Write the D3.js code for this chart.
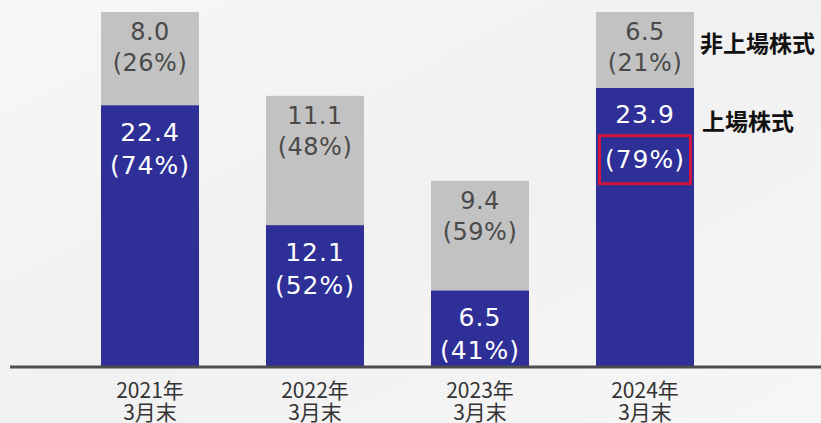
<!DOCTYPE html>
<html>
<head>
<meta charset="utf-8">
<script src="https://cdn.jsdelivr.net/npm/d3@7"></script>
<style>
  html, body { margin: 0; padding: 0; }
  body { width: 821px; height: 423px; overflow: hidden; }
  svg { display: block; }
</style>
</head>
<body>
<div id="chart"></div>
<script>
// values (3月末 each year)
var years = ["2021年", "2022年", "2023年", "2024年"];
var subLabel = "3月末";
var listed = [22.4, 12.1, 6.5, 23.9];
var unlisted = [8.0, 11.1, 9.4, 6.5];
var listedPct = [74, 52, 41, 79];
var unlistedPct = [26, 48, 59, 21];
var seriesNames = ["上場株式", "非上場株式"];
var highlightYear = "2024年";

var width = 821, height = 423;
var baseY = 366;

var data = years.map(function(y, i) {
  return { year: y, listed: listed[i], unlisted: unlisted[i],
           listedPct: listedPct[i], unlistedPct: unlistedPct[i] };
});

var svg = d3.select("#chart")
  .append("svg")
  .attr("width", width)
  .attr("height", height);

var defs = svg.append("defs");
var grad = defs.append("linearGradient")
  .attr("id", "bg")
  .attr("x1", "0").attr("y1", "0").attr("x2", "1").attr("y2", "1");
grad.append("stop").attr("offset", "0%").attr("stop-color", "#f7f7f7");
grad.append("stop").attr("offset", "50%").attr("stop-color", "#f1f1f1");
grad.append("stop").attr("offset", "100%").attr("stop-color", "#f6f6f6");

svg.append("rect")
  .attr("width", width)
  .attr("height", height)
  .attr("fill", "url(#bg)");

var x = d3.scaleBand()
  .domain(years)
  .range([34, 761])
  .paddingInner(0.406)
  .paddingOuter(0.406);

var y = d3.scaleLinear()
  .domain([0, 30.4])
  .range([baseY, 12]);

var stack = d3.stack().keys(["listed", "unlisted"]);
var series = stack(data);
var colors = { listed: "#2e2f97", unlisted: "#c2c2c2" };

svg.selectAll(".layer")
  .data(series)
  .enter().append("g")
  .attr("class", "layer")
  .attr("fill", function(d) { return colors[d.key]; })
  .selectAll("rect")
  .data(function(d) { return d; })
  .enter().append("rect")
  .attr("x", function(d) { return x(d.data.year); })
  .attr("y", function(d) { return y(d[1]); })
  .attr("width", x.bandwidth())
  .attr("height", function(d) { return y(d[0]) - y(d[1]); });

// segment labels
var font = "'DejaVu Sans', 'Noto Sans CJK JP', sans-serif";
series.forEach(function(s) {
  var isListed = s.key == "listed";
  var g = svg.append("g")
    .attr("font-family", font)
    .attr("text-anchor", "middle")
    .attr("fill", isListed ? "#ffffff" : "#4a4a4a")
    .attr("font-size", isListed ? 25 : 24)
    .attr("letter-spacing", isListed ? 1 : 0.5);

  s.forEach(function(d) {
    var cx = x(d.data.year) + x.bandwidth() / 2;
    var top = y(d[1]);
    var hl = isListed && d.data.year == highlightYear;
    var val = isListed ? d.data.listed : d.data.unlisted;
    var pct = isListed ? d.data.listedPct : d.data.unlistedPct;
    var off1 = isListed ? 27 : 20;
    var off2 = isListed ? 60 : 51;

    g.append("text")
      .attr("x", cx)
      .attr("y", top + off1)
      .attr("dy", "0.35em")
      .text(val.toFixed(1));

    var py = top + off2 + (hl ? 12 : 0);
    g.append("text")
      .attr("x", cx)
      .attr("y", py)
      .attr("dy", "0.35em")
      .text("(" + pct + "%)");

    if (hl) {
      svg.append("rect")
        .attr("x", x(d.data.year) + 3.5)
        .attr("y", py - 24)
        .attr("width", x.bandwidth() - 7)
        .attr("height", 48)
        .attr("fill", "none")
        .attr("stroke", "#d3143c")
        .attr("stroke-width", 3);
    }
  });
});

// baseline
svg.append("line")
  .attr("x1", 10)
  .attr("x2", width)
  .attr("y1", baseY + 1)
  .attr("y2", baseY + 1)
  .attr("stroke", "#4d4d4d")
  .attr("stroke-width", 3);

// x labels
var xl = svg.append("g")
  .attr("font-family", "'Noto Sans CJK JP', sans-serif")
  .attr("font-size", 21)
  .attr("fill", "#333333")
  .attr("text-anchor", "middle");

years.forEach(function(yr) {
  var cx = x(yr) + x.bandwidth() / 2;
  xl.append("text").attr("x", cx).attr("y", 398).text(yr);
  xl.append("text").attr("x", cx).attr("y", 420).text(subLabel);
});

// series names at right of last bar
var last = series[0][series[0].length - 1];
var lastU = series[1][series[1].length - 1];
var lg = svg.append("g")
  .attr("font-family", "'Noto Sans CJK JP', sans-serif")
  .attr("font-size", 23)
  .attr("font-weight", "bold")
  .attr("fill", "#111111");

lg.append("text")
  .attr("x", 700)
  .attr("y", (y(lastU[1]) + 32))
  .attr("dy", "0.35em")
  .text(seriesNames[1]);

lg.append("text")
  .attr("x", 702)
  .attr("y", y(last[1]) + 34)
  .attr("dy", "0.35em")
  .text(seriesNames[0]);
</script>
</body>
</html>
